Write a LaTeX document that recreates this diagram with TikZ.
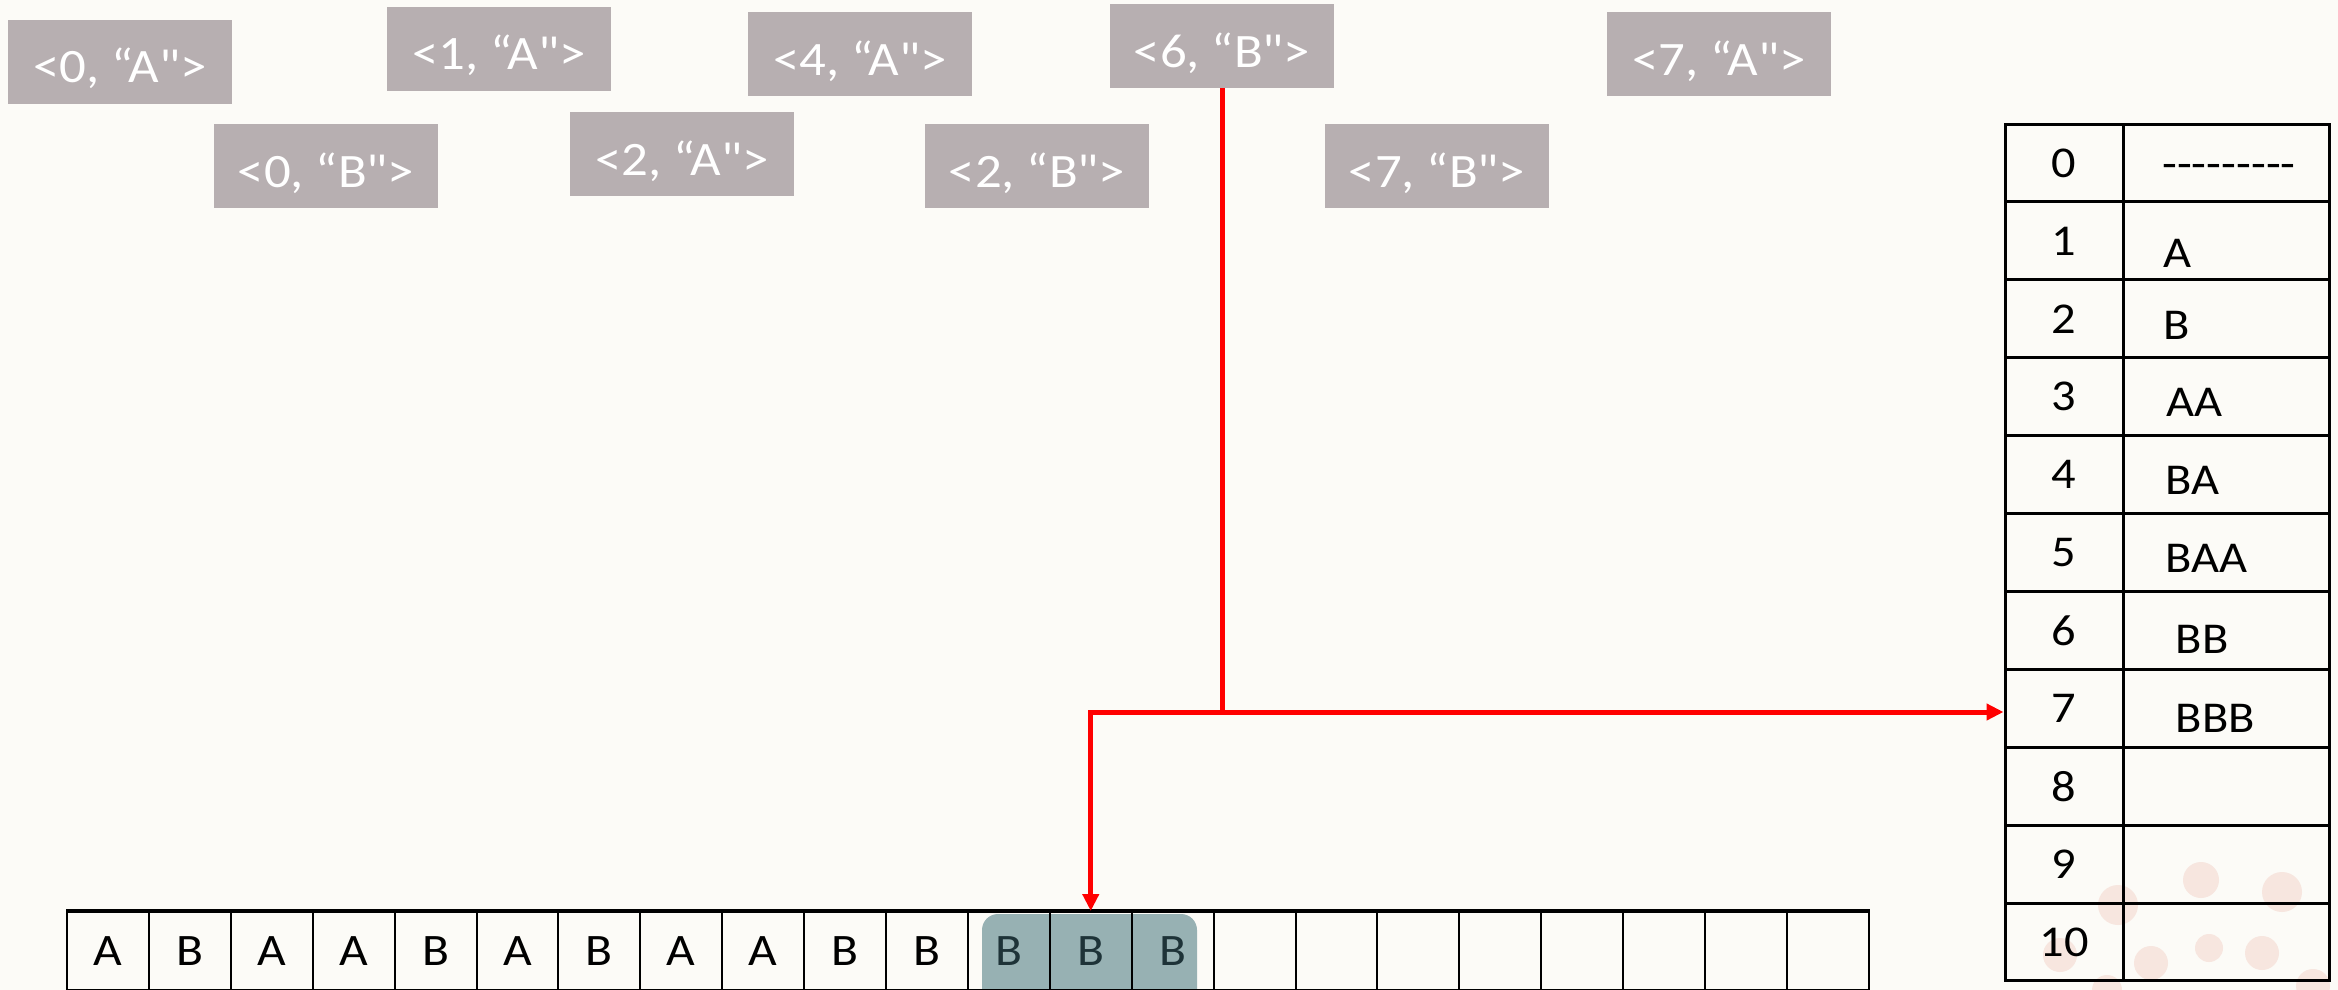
\documentclass[tikz,border=0pt]{standalone}
\usepackage{fontspec}
\newfontfamily\cf{Carlito}[FakeStretch=1.1]
\usetikzlibrary{arrows.meta,calc}
\definecolor{bg}{HTML}{FCFBF7}
\definecolor{lblgray}{HTML}{B7AFB1}
\definecolor{hl}{HTML}{97B1B3}
\definecolor{hltext}{HTML}{1E3338}
\definecolor{blob}{HTML}{F7E6DF}
\definecolor{redline}{HTML}{FF0000}
\begin{document}
\begin{tikzpicture}[x=1pt,y=-1pt,
  lbl/.style={fill=lblgray, text=white, minimum width=224pt, minimum height=84pt,
    inner sep=0pt, font=\cf\fontsize{48}{56}\selectfont, text height=42pt, text depth=0pt},
  tcell/.style={draw=black, line width=3pt, minimum height=77.9pt, inner sep=0pt,
    font=\cf\fontsize{44}{52}\selectfont},
  tval/.style={anchor=base west, inner sep=0pt, font=\cf\fontsize{44}{52}\selectfont},
  acell/.style={draw=black, line width=2pt, minimum width=81.9pt, minimum height=78pt,
    inner sep=0pt, font=\cf\fontsize{45}{52}\selectfont},
  arr/.style={draw=redline, line width=5pt, -{Triangle[length=17pt,width=16pt]}},
  blobshape/.style={fill=blob}]
\useasboundingbox (0,0) rectangle (2338,990);
\fill[bg] (0,0) rectangle (2338,990);

% faint background blobs
\foreach \x/\y/\r in {2118/905/20, 2201/880/18, 2282/892/20, 2060/955/17, 2151/963/17,
  2209/948/14, 2262/953/17, 2107/990/15, 2313/986/17}
  \fill[blobshape] (\x,\y) circle[radius=\r];

% label boxes
\node[lbl] (a0A) at (120,62) {<0, “A">};
\node[lbl] (a1A) at (499,49) {<1, “A">};
\node[lbl] (a4A) at (860,54) {<4, “A">};
\node[lbl] (a6B) at (1222,46) {<6, “B">};
\node[lbl] (a7A) at (1719,54) {<7, “A">};
\node[lbl] (a0B) at (326,166) {<0, “B">};
\node[lbl] (a2A) at (682,154) {<2, “A">};
\node[lbl] (a2B) at (1037,166) {<2, “B">};
\node[lbl] (a7B) at (1437,166) {<7, “B">};

% dictionary table
\foreach \i in {0,...,10} {
  \node[tcell, minimum width=118pt] (i\i) at (2064,{124+(\i+0.5)*77.9}) {\i};
  \node[tcell, minimum width=206pt] (v\i) at (2226,{124+(\i+0.5)*77.9}) {};
}
\node[tval, anchor=base] (t0) at ($(v0.center)+(3,16)$) {\mbox{-}\mbox{-}\mbox{-}\mbox{-}\mbox{-}\mbox{-}\mbox{-}\mbox{-}\mbox{-}};
\node[tval] (t1) at ($(v1.west)+(42,27)$) {A};
\node[tval] (t2) at ($(v2.west)+(42,21)$) {B};
\node[tval] (t3) at ($(v3.west)+(45,20)$) {AA};
\node[tval] (t4) at ($(v4.west)+(44,20)$) {BA};
\node[tval] (t5) at ($(v5.west)+(44,20)$) {BAA};
\node[tval] (t6) at ($(v6.west)+(54,23)$) {BB};
\node[tval] (t7) at ($(v7.west)+(54,24)$) {BBB};

% highlight behind cells 12-14
\fill[hl, rounded corners=16pt] (982,914) rectangle (1197,1012);

% bottom array
\foreach \t [count=\k] in {A,B,A,A,B,A,B,A,A,B,B}
  \node[acell] (c\k) at ({67+(\k-0.5)*81.9},951) {\t};
\foreach \k in {12,13,14}
  \node[acell, text=hltext] (c\k) at ({67+(\k-0.5)*81.9},951) {B};
\foreach \k in {15,...,22}
  \node[acell] (c\k) at ({67+(\k-0.5)*81.9},951) {};
\draw[line width=3.5pt] (c1.north west) -- (c22.north east);

% red connectors
\coordinate (j) at (a6B.south |- 0,712);
\draw[redline, line width=5pt] (a6B.south) -- (j);
\draw[arr] (j) -- (j -| i7.west);
\draw[arr] (j) -| (c13.north);
\end{tikzpicture}
\end{document}
